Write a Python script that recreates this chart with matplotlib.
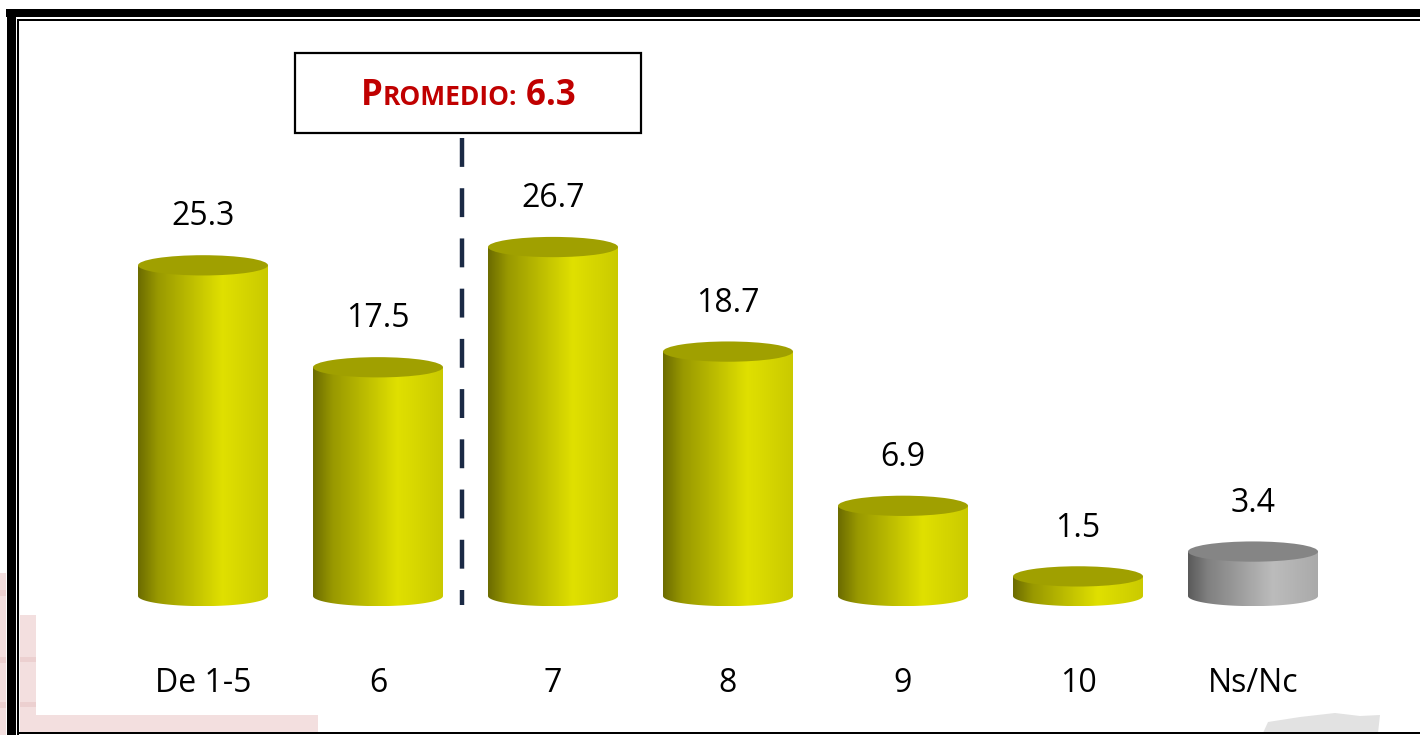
import matplotlib
matplotlib.use("Agg")
import matplotlib.pyplot as plt
import numpy as np
from matplotlib.path import Path
from matplotlib.patches import PathPatch, Ellipse, Rectangle, Polygon
from matplotlib.lines import Line2D

categories = ["De 1-5", "6", "7", "8", "9", "10", "Ns/Nc"]
values = [25.3, 17.5, 26.7, 18.7, 6.9, 1.5, 3.4]
bar_kind = ["y", "y", "y", "y", "y", "y", "g"]
average_label = ("P", "ROMEDIO:", " 6.3")
average_pos = 1.48  # position of the mean marker on the category axis

W, H = 1420, 735
fig = plt.figure(figsize=(W / 100, H / 100), dpi=100)
fig.patch.set_facecolor("white")

def fx(px):
    return px / W

def fy(py):
    return 1 - py / H

# faint watermark decorations
pink = "#f3dfdf"
pink2 = "#ecd0d0"
for (x0, y0, x1, y1, c) in [(0, 573, 6, 735, pink), (20, 615, 36, 733, pink),
                            (20, 715, 318, 733, pink), (0, 590, 6, 596, pink2),
                            (0, 657, 6, 663, pink2), (0, 702, 6, 708, pink2),
                            (20, 657, 36, 662, pink2), (20, 702, 36, 707, pink2)]:
    fig.add_artist(Rectangle((fx(x0), fy(y1)), fx(x1 - x0), (y1 - y0) / H,
                             transform=fig.transFigure, color=c, lw=0, zorder=0))
gray_pts = [(1263, 733), (1268, 722), (1300, 717), (1335, 713), (1360, 716),
            (1380, 715), (1378, 733)]
fig.add_artist(Polygon([(fx(a), fy(b)) for a, b in gray_pts], closed=True,
                       transform=fig.transFigure, color="#e2e2e2", lw=0, zorder=0))

# frame
def fline(x0, y0, x1, y1, lw):
    fig.add_artist(Line2D([fx(x0), fx(x1)], [fy(y0), fy(y1)], transform=fig.transFigure,
                          color="black", lw=lw, solid_capstyle="butt", zorder=5))

fline(6, 13, 1420, 13, 8 * 0.72)
fline(10.5, 9, 10.5, 735, 9 * 0.72)
fline(18, 20, 1420, 20, 2 * 0.72)
fline(18, 19, 18, 735, 2 * 0.72)
fline(18, 733, 1420, 733, 2 * 0.72)

# axes: x=0 at px 203, spacing 175; y=0 at px 596, 13.07 px/unit
ppu = 13.07
ymin, ymax = -8, 40
left = 203 - 0.5 * 175
ax = fig.add_axes([fx(left), (735 - 596 + ymin * ppu) / H, 7 * 175 / W,
                   (ymax - ymin) * ppu / H])
ax.set_xlim(-0.5, 6.5)
ax.set_ylim(ymin, ymax)
ax.axis("off")

bw = 130 / 175
eh = 1.55

def gradient(base):
    t = np.linspace(0, 1, 256)
    b = np.interp(t, [0, 0.15, 0.65, 1.0], [0.48, 0.68, 1.0, 0.9])
    img = np.zeros((2, 256, 3))
    for k in range(3):
        img[:, :, k] = b * base[k]
    return img

for i, (v, kind) in enumerate(zip(values, bar_kind)):
    if kind == "y":
        base = np.array([224, 224, 0]) / 255
        top = "#a0a000"
    else:
        base = np.array([188, 188, 188]) / 255
        top = "#858585"
    x0, x1 = i - bw / 2, i + bw / 2
    th = np.linspace(0, np.pi, 60)
    bottom = [(i + bw / 2 * np.cos(t), -eh / 2 * np.sin(t)) for t in th]
    verts = [(x0, v), (x1, v)] + bottom + [(x0, v)]
    path = Path(verts)
    patch = PathPatch(path, facecolor="none", edgecolor="none")
    ax.add_patch(patch)
    im = ax.imshow(gradient(base), extent=(x0, x1, -eh / 2, v), aspect="auto",
                   interpolation="bilinear", zorder=2)
    im.set_clip_path(patch)
    ax.add_patch(Ellipse((i, v), bw, eh, facecolor=top, edgecolor="none", zorder=3))
    ax.text(i, v + 3.7, f"{v:.1f}", ha="center", va="center", fontsize=23,
            family="Open Sans", color="black")
    ax.text(i, -6.66, categories[i], ha="center", va="center", fontsize=23,
            family="Open Sans", color="black")

ax.set_aspect("auto")

# mean marker
ax.plot([average_pos, average_pos], [35.04, -0.69], color="#1b2a45", lw=3.2,
        dashes=(6.5, 4.8), zorder=4)

# box
fig.add_artist(Rectangle((fx(295), fy(133)), fx(641 - 295), (133 - 53) / H,
                         transform=fig.transFigure, facecolor="white",
                         edgecolor="black", lw=1.6, zorder=6))
red = "#c00000"
sizes = [25, 19, 25]
texts = [fig.text(0, fy(93), s, fontsize=fs, fontweight="bold", color=red,
                  family="Open Sans", va="baseline", zorder=7)
         for s, fs in zip(average_label, sizes)]
fig.canvas.draw()
r = fig.canvas.get_renderer()
widths = [t.get_window_extent(r).width for t in texts]
total = sum(widths)
xcur = 468 - total / 2
base_y = fy(93 + 12)
for t, w in zip(texts, widths):
    t.set_position((fx(xcur), base_y))
    xcur += w

fig.savefig("out.png", dpi=100, facecolor="white")
